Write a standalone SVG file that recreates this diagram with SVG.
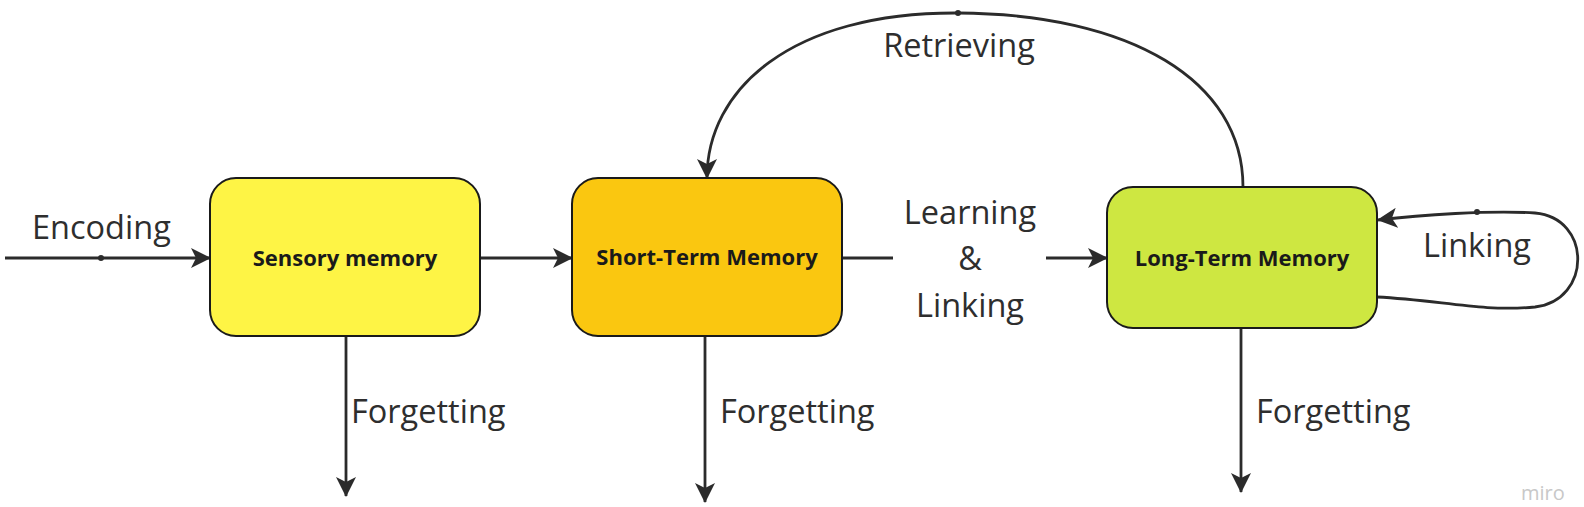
<svg xmlns="http://www.w3.org/2000/svg" width="1584" height="507" viewBox="0 0 1584 507">
<style>
.box{stroke:#1a1a1a;stroke-width:2}
.bt{font-family:"Open Sans","Liberation Sans",sans-serif;font-weight:700;font-size:22px;fill:#1a1a1a;text-anchor:middle}
.lbl{font-family:"Open Sans","Liberation Sans",sans-serif;font-size:32.5px;fill:#2e2e2e}
.c{fill:none;stroke:#2b2b2b;stroke-width:2.8}
.dot{fill:#2b2b2b}
</style>
<defs>
<marker id="ah" viewBox="0 0 20 20" refX="19" refY="10" markerWidth="20" markerHeight="20" markerUnits="userSpaceOnUse" orient="auto">
<path d="M0,0 L20,10 L0,20 L5,10 Z" fill="#2b2b2b"/>
</marker>
</defs>
<rect width="1584" height="507" fill="#ffffff"/>
<g id="connectors">
<path class="c" d="M5,258 L210,258" marker-end="url(#ah)"/>
<circle class="dot" cx="101" cy="258" r="3"/>
<path class="c" d="M481,258 L572,258" marker-end="url(#ah)"/>
<path class="c" d="M843,258 L893,258"/>
<path class="c" d="M1046,258 L1107,258" marker-end="url(#ah)"/>
<path class="c" d="M1243,187 C1243,80 1130,14 958,13 C790,12 707,90 707,178" marker-end="url(#ah)"/>
<circle class="dot" cx="958" cy="13" r="3"/>
<path class="c" d="M1377,297 C1440,300 1480,312 1535,307 C1592,300 1592,218 1535,213 C1490,210 1420,215 1378,220" marker-end="url(#ah)"/>
<circle class="dot" cx="1477" cy="212" r="3"/>
<path class="c" d="M346,336 L346,496" marker-end="url(#ah)"/>
<path class="c" d="M705,336 L705,502" marker-end="url(#ah)"/>
<path class="c" d="M1241,328 L1241,492" marker-end="url(#ah)"/>
</g>
<g id="labels">
<text class="lbl" x="32" y="239">Encoding</text>
<text class="lbl" x="970" y="224" text-anchor="middle">Learning</text>
<text class="lbl" x="970" y="270" text-anchor="middle">&amp;</text>
<text class="lbl" x="970" y="317" text-anchor="middle">Linking</text>
<text class="lbl" x="959" y="57" text-anchor="middle">Retrieving</text>
<text class="lbl" x="1477" y="257" text-anchor="middle">Linking</text>
<text class="lbl" x="351" y="423">Forgetting</text>
<text class="lbl" x="720" y="423">Forgetting</text>
<text class="lbl" x="1256" y="423">Forgetting</text>
</g>
<g id="sensory">
<rect class="box" x="210" y="178" width="270" height="158" rx="26" fill="#FEF445"/>
<text class="bt" x="345" y="266">Sensory memory</text>
</g>
<g id="short-term">
<rect class="box" x="572" y="178" width="270" height="158" rx="26" fill="#FAC710"/>
<text class="bt" x="707" y="265">Short-Term Memory</text>
</g>
<g id="long-term">
<rect class="box" x="1107" y="187" width="270" height="141" rx="26" fill="#CEE741"/>
<text class="bt" x="1242" y="266">Long-Term Memory</text>
</g>
<text x="1521" y="500" font-family="'Open Sans','Liberation Sans',sans-serif" font-size="20" fill="#c8c8c8">miro</text>
</svg>
